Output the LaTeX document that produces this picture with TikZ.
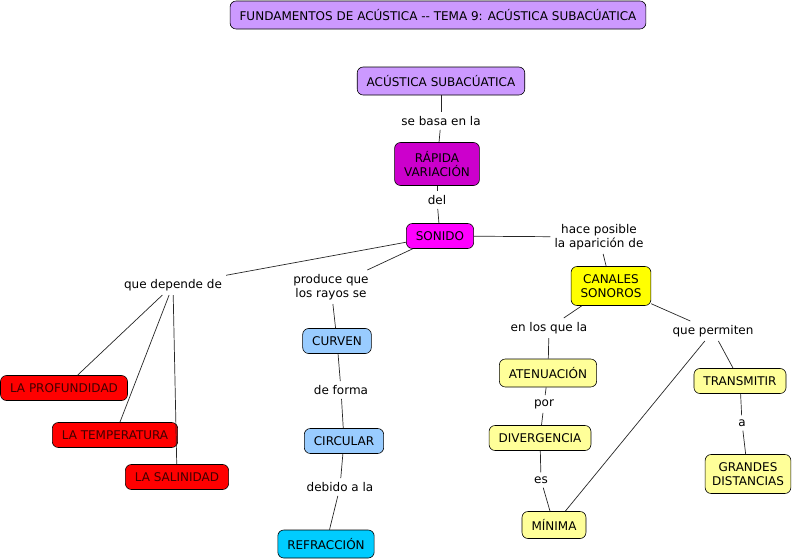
\documentclass[tikz,border=0pt]{standalone}
\usepackage{fontspec}
\setmainfont{DejaVu Sans}
\usepackage{xcolor}

\definecolor{lila}{HTML}{CC99FF}
\definecolor{morado}{HTML}{CC00CC}
\definecolor{fucsia}{HTML}{FF00FF}
\definecolor{amarillo}{HTML}{FFFF00}
\definecolor{crema}{HTML}{FFFF99}
\definecolor{rojo}{HTML}{FF0000}
\definecolor{celeste}{HTML}{99CCFF}
\definecolor{cian}{HTML}{00CCFF}

\tikzset{
  concepto/.style={draw=black, rounded corners=6pt, align=center, inner xsep=9.5pt, inner ysep=4pt,
    minimum height=25pt, font=\fontsize{12}{14}\selectfont, line width=0.6pt},
  enlace/.style={align=center, inner sep=4pt, font=\fontsize{12}{14}\selectfont},
  linea/.style={draw=black!85, line width=0.7pt}
}

\begin{document}
\begin{tikzpicture}[x=1pt, y=-1pt]
\useasboundingbox (0,0) rectangle (796,560);

\node (titulo) at (438, 15) [concepto, fill=lila, minimum height=28pt] {FUNDAMENTOS DE ACÚSTICA -{}- TEMA 9: ACÚSTICA SUBACÚATICA};
\node (acustica) at (441, 81) [concepto, fill=lila, minimum height=28pt] {ACÚSTICA SUBACÚATICA};
\node (basa) at (441, 121) [enlace] {se basa en la};
\node (rapida) at (437, 164) [concepto, fill=morado, minimum height=43pt] {RÁPIDA\\VARIACIÓN};
\node (del) at (437, 200) [enlace] {del};
\node (sonido) at (440, 236) [concepto, fill=fucsia] {SONIDO};
\node (hace) at (599, 237) [enlace] {hace posible\\la aparición de};
\node (canales) at (611, 286) [concepto, fill=amarillo, minimum height=39pt] {CANALES\\SONOROS};
\node (depende) at (173, 285) [enlace] {que depende de};
\node (produce) at (331, 287) [enlace] {produce que\\los rayos se};
\node (prof) at (64, 388) [concepto, fill=rojo, text=red!25!black] {LA PROFUNDIDAD};
\node (temp) at (115, 435) [concepto, fill=rojo, text=red!25!black] {LA TEMPERATURA};
\node (sal) at (177, 477) [concepto, fill=rojo, text=red!25!black] {LA SALINIDAD};
\node (curven) at (337, 341) [concepto, fill=celeste] {CURVEN};
\node (forma) at (341, 390) [enlace] {de forma};
\node (circular) at (344, 441) [concepto, fill=celeste] {CIRCULAR};
\node (debido) at (340, 487) [enlace] {debido a la};
\node (refraccion) at (326, 544) [concepto, fill=cian, minimum height=28pt] {REFRACCIÓN};
\node (losque) at (549, 328) [enlace] {en los que la};
\node (permiten) at (713, 331) [enlace] {que permiten};
\node (atenuacion) at (548, 373) [concepto, fill=crema, minimum height=28pt] {ATENUACIÓN};
\node (por) at (544, 404) [enlace] {por};
\node (divergencia) at (540, 438) [concepto, fill=crema] {DIVERGENCIA};
\node (es) at (541, 480) [enlace] {es};
\node (minima) at (554, 525) [concepto, fill=crema, minimum height=27pt] {MÍNIMA};
\node (transmitir) at (740, 381) [concepto, fill=crema] {TRANSMITIR};
\node (a) at (742, 423) [enlace] {a};
\node (grandes) at (748, 474) [concepto, fill=crema, minimum height=39pt, inner xsep=7pt] {GRANDES\\DISTANCIAS};

\draw[linea] (acustica) to (basa);
\draw[linea] (basa) to (rapida);
\draw[linea] (rapida) to (del);
\draw[linea] (del) to (sonido);
\draw[linea] (sonido) to (hace);
\draw[linea] (hace) to (canales);
\draw[linea] (sonido) to (depende);
\draw[linea] (sonido) to (produce);
\draw[linea] (depende) to (prof);
\draw[linea] (depende) to (temp);
\draw[linea] (depende) to (sal);
\draw[linea] (produce) to (curven);
\draw[linea] (curven) to (forma);
\draw[linea] (forma) to (circular);
\draw[linea] (circular) to (debido);
\draw[linea] (debido) to (refraccion);
\draw[linea] (canales) to (losque);
\draw[linea] (losque) to (atenuacion);
\draw[linea] (canales) to (permiten);
\draw[linea] (permiten) to (minima);
\draw[linea] (permiten) to (transmitir);
\draw[linea] (atenuacion) to (por);
\draw[linea] (por) to (divergencia);
\draw[linea] (divergencia) to (es);
\draw[linea] (es) to (minima);
\draw[linea] (transmitir) to (a);
\draw[linea] (a) to (grandes);
\end{tikzpicture}
\end{document}
